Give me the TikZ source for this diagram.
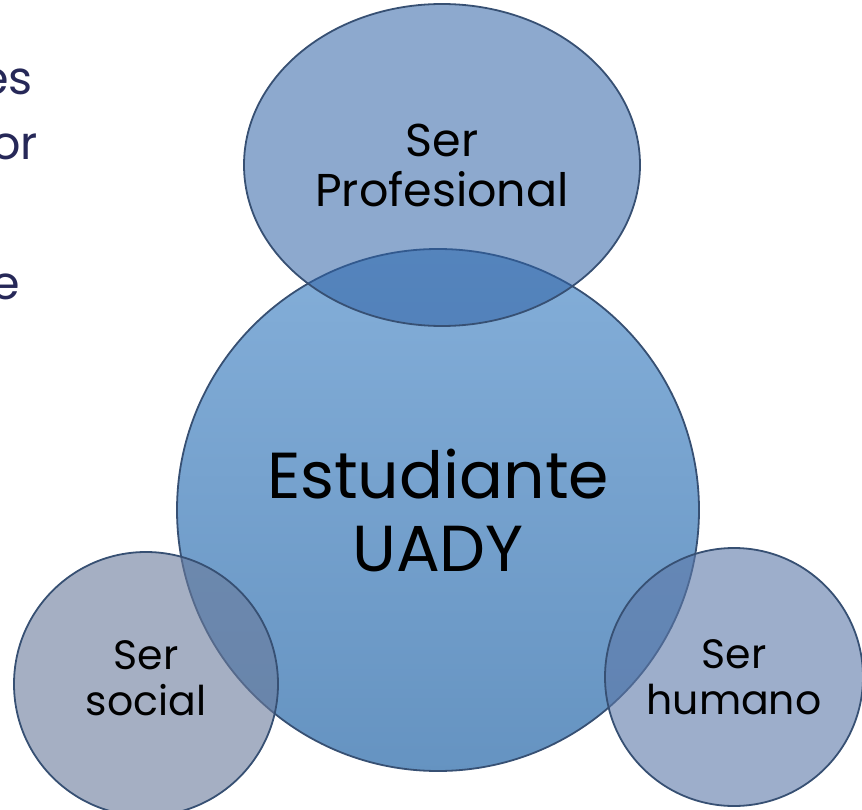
\documentclass[tikz,border=0pt]{standalone}
\usepackage{fontspec}
\setmainfont{Poppins}
\usetikzlibrary{shapes.geometric, positioning}
\definecolor{bigblue}{RGB}{110,160,210}
\definecolor{topblue}{RGB}{47,98,165}
\definecolor{socgray}{RGB}{105,122,155}
\definecolor{humgray}{RGB}{92,120,168}
\definecolor{rimline}{RGB}{55,80,115}
\definecolor{slidetext}{RGB}{38,40,88}

\begin{document}
\begin{tikzpicture}[
        x=1pt, y=-1pt,
        every node/.style={align=center, inner sep=0pt},
        bubble/.style={draw=rimline, line width=1.8pt},
        bigfont/.style={font=\fontsize{65}{73}\selectfont},
        midfont/.style={font=\fontsize{46}{50}\selectfont},
        smallfont/.style={font=\fontsize{41}{46}\selectfont},
    ]
    \useasboundingbox (0,0) rectangle (862,810);
    \clip (0,0) rectangle (862,810);
    % Text of the slide behind
    \node[anchor=base east, text=slidetext, midfont] (frag1) at (33,95) {es};
    \node[anchor=base east, text=slidetext, midfont] (frag2) at (38,160) {or};
    \node[anchor=base east, text=slidetext, midfont] (frag3) at (20,300) {e};
    % Nodes
    \node[bubble, circle, top color=bigblue!85!white, bottom color=bigblue!92!black,
          minimum size=522pt, bigfont] (Est) at (438,510) {Estudiante\\UADY};
    \node[bubble, ellipse, fill=topblue, fill opacity=0.55, text opacity=1,
          minimum width=396pt, minimum height=322pt, midfont] (Prof) at (442,165) {Ser\\Profesional};
    \node[bubble, circle, fill=socgray, fill opacity=0.6, text opacity=1,
          minimum size=264pt, text depth=12pt, smallfont] (Soc) at (146,684) {Ser\\social};
    \node[bubble, circle, fill=humgray, fill opacity=0.6, text opacity=1,
          minimum size=258pt, smallfont] (Hum) at (734,677) {Ser\\humano};
\end{tikzpicture}
\end{document}
